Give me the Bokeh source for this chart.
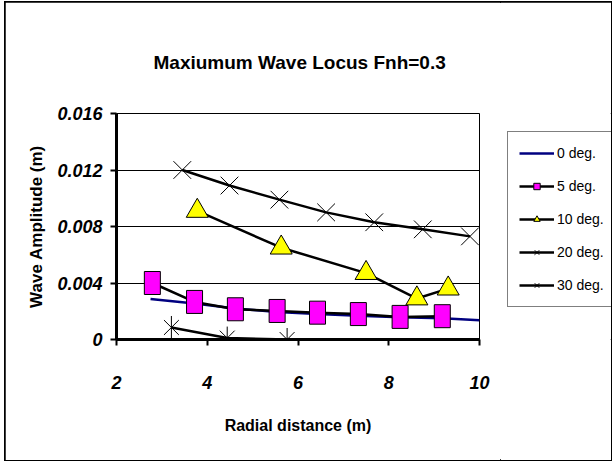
import math
from bokeh.plotting import figure
from bokeh.layouts import row
from bokeh.models import FixedTicker, Legend, LegendItem, Range1d
from bokeh.embed import file_html
from bokeh.resources import INLINE

# ---- data ----
title_text = "Maxiumum Wave Locus  Fnh=0.3"
x_label = "Radial distance (m)"
y_label = "Wave Amplitude (m)"
x_ticks = [2, 4, 6, 8, 10]
y_ticks = [0, 0.004, 0.008, 0.012, 0.016]
y_tick_labels = ["0", "0.004", "0.008", "0.012", "0.016"]

x_0deg = [2.75, 3.72, 4.62, 5.54, 6.43, 7.33, 8.25, 9.18, 10.0]
y_0deg = [0.00286, 0.00255, 0.00220, 0.00195, 0.00180, 0.00168, 0.00158, 0.00150, 0.00137]

x_5deg = [2.79, 3.72, 4.62, 5.54, 6.43, 7.33, 8.25, 9.18]
y_5deg = [0.0040, 0.00266, 0.00214, 0.00202, 0.0019, 0.0018, 0.0016, 0.00165]

x_10deg = [3.78, 5.63, 7.50, 8.62, 9.31]
y_10deg = [0.0091, 0.0065, 0.0047, 0.0029, 0.0036]

x_20deg = [3.45, 4.49, 5.59, 6.62, 7.68, 8.75, 9.79]
y_20deg = [0.0120, 0.0109, 0.0099, 0.0090, 0.0083, 0.0078, 0.0073]

x_30deg = [3.21, 4.44, 5.76]
y_30deg = [0.00085, 0.0001, 0.0]

series_labels = ["0 deg.", "5 deg.", "10 deg.", "20 deg.", "30 deg."]

FONT = "'Liberation Sans', Arial, sans-serif"

p = figure(width=495, height=458, x_range=(2, 10), y_range=(0, 0.016),
           output_backend="svg", toolbar_location=None,
           min_border_left=111, min_border_right=21,
           min_border_top=111, min_border_bottom=121)

p.background_fill_color = "white"
p.border_fill_color = "white"
p.outline_line_color = "black"
p.outline_line_width = 1

# title
p.title.text = title_text
p.title.text_font = FONT
p.title.text_font_size = "19px"
p.title.text_font_style = "bold"
p.title.text_color = "black"
p.title.align = "left"
p.title.offset = 37
p.title.standoff = 82

# axes
for ax in (p.xaxis[0], p.yaxis[0]):
    ax.axis_line_width = 3
    ax.axis_line_color = "black"
    ax.major_tick_line_width = 2
    ax.major_tick_line_color = "black"
    ax.major_tick_out = 6
    ax.major_tick_in = 0
    ax.minor_tick_line_color = None
    ax.major_label_text_font = FONT
    ax.major_label_text_font_size = "18px"
    ax.major_label_text_font_style = "bold italic"
    ax.major_label_text_color = "black"
    ax.axis_label_text_font_style = "bold"
    ax.axis_label_text_color = "black"

p.xaxis.ticker = FixedTicker(ticks=x_ticks)
p.yaxis.ticker = FixedTicker(ticks=y_ticks)
p.yaxis.major_label_overrides = {t: s for t, s in zip(y_ticks, y_tick_labels)}
p.xaxis.major_label_standoff = 30
p.yaxis.major_label_standoff = 8

p.xaxis.axis_label = x_label
p.xaxis.axis_label_text_font = FONT
p.xaxis.axis_label_text_font_size = "16px"
p.xaxis.axis_label_standoff = 25
p.yaxis.axis_label = y_label
p.yaxis.axis_label_text_font = FONT
p.yaxis.axis_label_text_font_size = "17px"
p.yaxis.axis_label_standoff = 8

p.xgrid.grid_line_color = None
p.ygrid.grid_line_color = "black"
p.ygrid.grid_line_width = 1


def add_series(fig):
    """Draw all five series on a figure; returns the renderers for the legend."""
    r0 = fig.line(x_0deg, y_0deg, line_color="#000080", line_width=2.5)

    r5l = fig.line(x_5deg, y_5deg, line_color="black", line_width=2.5)
    r5leg = fig.scatter(x_5deg, y_5deg, marker="square", size=0, fill_color="#FF00FF",
                        line_color="black", line_width=1)
    fig.rect(x_5deg, y_5deg, width=16, height=23, width_units="screen", height_units="screen",
             fill_color="#FF00FF", line_color="black", line_width=1)

    r10l = fig.line(x_10deg, y_10deg, line_color="black", line_width=2.5)
    r10m = fig.scatter(x_10deg, y_10deg, marker="triangle", size=22, fill_color="#FFFF00",
                       line_color="black", line_width=1)

    r20l = fig.line(x_20deg, y_20deg, line_color="black", line_width=2.5)
    r20m = fig.scatter(x_20deg, y_20deg, marker="x", size=25, line_color="black", line_width=1)

    r30l = fig.line(x_30deg, y_30deg, line_color="black", line_width=2.5)
    r30m = fig.scatter(x_30deg, y_30deg, marker="x", size=21, line_color="black", line_width=1)
    fig.scatter(x_30deg, y_30deg, marker="dash", angle=math.pi / 2, size=23,
                line_color="black", line_width=1)
    return [[r0], [r5l, r5leg], [r10l, r10m], [r20l, r20m], [r30l, r30m]]


add_series(p)

# legend panel: a second, axis-less figure whose view range excludes the data,
# so only the legend (keyed to the same series styles) is visible
q = figure(width=111, height=458, x_range=Range1d(100, 101), y_range=Range1d(100, 101),
           output_backend="svg", toolbar_location=None,
           x_axis_location=None, y_axis_location=None, min_border=0)
q.grid.grid_line_color = None
q.outline_line_color = None
q.background_fill_color = "white"
q.border_fill_color = "white"
leg_renderers = add_series(q)

legend = Legend(items=[LegendItem(label=lab, renderers=rs)
                       for lab, rs in zip(series_labels, leg_renderers)],
                location=(7, 32))
legend.border_line_color = "black"
legend.border_line_width = 1
legend.background_fill_color = "white"
legend.background_fill_alpha = 1
legend.label_text_font = FONT
legend.label_text_font_size = "14px"
legend.label_text_color = "black"
legend.glyph_width = 35
legend.glyph_height = 16
legend.label_height = 20
legend.label_standoff = 3
legend.spacing = 13
legend.padding = 11
legend.margin = 0
q.add_layout(legend, "center")

layout = row(p, q, spacing=0,
             styles={"margin-left": "5px", "margin-top": "2px",
                     "outline": "2px solid black", "outline-offset": "-1px"})

open("out.html", "w").write(file_html(layout, INLINE))
